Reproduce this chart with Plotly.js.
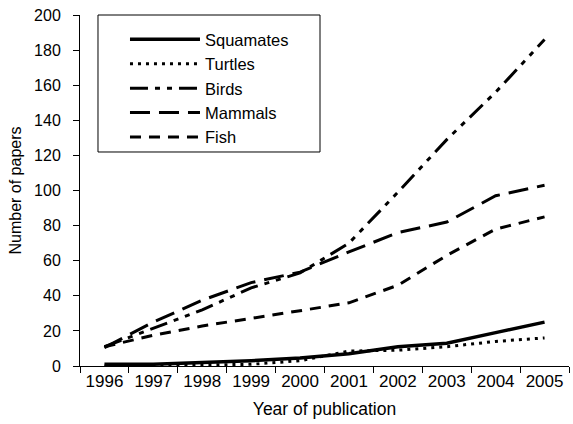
<!DOCTYPE html>
<html>
<head>
<meta charset="utf-8">
<script src="https://cdn.plot.ly/plotly-3.0.1.min.js"></script>
<style>html,body{margin:0;padding:0;background:#fff;}#chart{width:573px;height:424px;}</style>
</head>
<body>
<div id="chart"></div>
<script>
const years = ['1996','1997','1998','1999','2000','2001','2002','2003','2004','2005'];
const squamates = [1, 1, 2, 3, 4.5, 7, 11, 13, 19, 25];
const turtles = [0, 0, 0.5, 1, 3, 8.5, 9, 11, 14, 16];
const birds = [11, 21.5, 32, 44.5, 53, 70, 99, 129, 156, 186];
const mammals = [10.5, 25, 37.5, 47.5, 53.5, 65, 76, 82, 97, 103];
const fish = [11, 17.5, 22.8, 27, 31.5, 36, 46, 63, 78, 85];

const names = ['Squamates','Turtles','Birds','Mammals','Fish'];
const series = [squamates, turtles, birds, mammals, fish];
const dashes = ['solid', '3px,5px', '18px,7px,5px,7px,5px,7px', '20px,9px', '11px,8px'];
const widths = [3.5, 3, 3, 3, 3];

const traces = series.map((s, i) => ({
  x: years, y: s, name: names[i], type: 'scatter', mode: 'lines',
  line: {color: '#000', width: widths[i], dash: dashes[i]},
  legendgroup: 'g' + i
}));

const layout = {
  width: 573, height: 424,
  margin: {l: 80, r: 4, t: 15, b: 58},
  paper_bgcolor: '#fff', plot_bgcolor: '#fff',
  font: {family: 'Liberation Sans, Arial, sans-serif', size: 16, color: '#000'},
  showlegend: true,
  xaxis: {
    type: 'category', range: [-0.5, 9.5], tickson: 'boundaries',
    showline: true, linecolor: '#000', linewidth: 1,
    ticks: 'outside', ticklen: 6, tickcolor: '#000', showgrid: false, zeroline: false,
    title: {text: 'Year of publication', font: {size: 17.5}, standoff: 12},
    tickfont: {size: 17}
  },
  yaxis: {
    range: [0, 200], dtick: 20, tick0: 0,
    showline: true, linecolor: '#000', linewidth: 1,
    ticks: 'outside', ticklen: 6, tickcolor: '#000', showgrid: false, zeroline: false,
    ticklabelstandoff: 9,
    title: {text: 'Number of papers', font: {size: 16}, standoff: 8},
    tickfont: {size: 16}
  },
  legend: {
    x: 0.092, y: 0.98, xanchor: 'left', yanchor: 'top',
    bgcolor: 'rgba(0,0,0,0)', borderwidth: 0,
    font: {size: 16.5}, itemwidth: 70, tracegroupgap: 0
  },
  shapes: [{
    type: 'rect', xref: 'paper', yref: 'paper',
    x0: 0.0368, x1: 0.4908, y0: 0.6097, y1: 1.0,
    line: {color: '#000', width: 1}, fillcolor: 'rgba(0,0,0,0)'
  }]
};

Plotly.newPlot('chart', traces, layout, {displayModeBar: false, staticPlot: true});
</script>
</body>
</html>
